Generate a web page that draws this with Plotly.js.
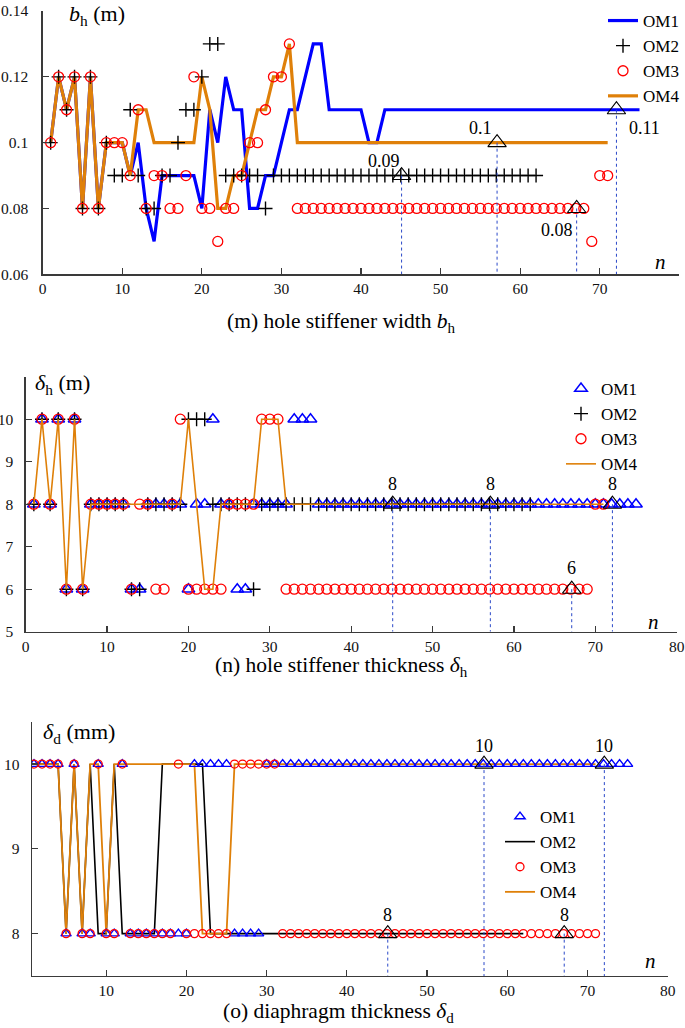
<!DOCTYPE html>
<html><head><meta charset="utf-8">
<script src="https://cdn.plot.ly/plotly-3.0.1.min.js"></script>
<style>html,body{margin:0;padding:0;background:#fff}#chart{width:685px;height:1028px}</style>
</head><body><div id="chart"></div>
<script>
// ---------- Panel (m): hole stiffener width b_h ----------
const bh_OM1 = [0.1,0.12,0.11,0.12,0.08,0.12,0.08,0.1,0.1,
  0.1,0.09,0.1,0.08,0.07,
  0.09,0.09,0.09,0.09,0.09,
  0.08,0.11,0.1,0.12,0.11,0.11,
  0.08,0.08,0.09,0.09,
  0.1,0.11,0.11,0.12,0.13,0.13,
  0.11,0.11,0.11,0.11,0.11,
  0.1,0.1,
  0.11,0.11,0.11,0.11,0.11,0.11,0.11,0.11,0.11,0.11,0.11,0.11,0.11,0.11,0.11,0.11,0.11,
  0.11,0.11,0.11,0.11,0.11,0.11,0.11,0.11,0.11,0.11,0.11,0.11,0.11,0.11,0.11,0.11];
const bh_OM2 = [0.1,0.12,0.11,0.12,0.08,0.12,0.08,0.1,
  0.09,0.09,0.11,0.09,0.08,0.08,
  0.09,0.09,0.1,0.11,0.11,0.12,0.13,0.13,
  0.09,0.09,0.09,0.09,0.09,
  0.08,
  0.09,0.09,0.09,0.09,0.09,0.09,0.09,0.09,0.09,0.09,0.09,0.09,0.09,0.09,0.09,0.09,0.09,
  0.09,0.09,0.09,0.09,0.09,0.09,0.09,0.09,0.09,0.09,0.09,0.09,0.09,0.09,0.09,0.09,0.09];
const bh_OM3 = [0.1,0.12,0.11,0.12,0.08,0.12,0.08,0.1,0.1,0.1,
  0.09,0.11,0.08,0.09,0.09,0.08,0.08,0.09,0.12,0.08,
  0.08,0.07,0.08,0.08,0.09,0.1,0.1,0.11,0.12,0.12,0.13,
  0.08,0.08,0.08,0.08,0.08,0.08,0.08,0.08,0.08,0.08,0.08,0.08,0.08,0.08,0.08,0.08,0.08,0.08,0.08,
  0.08,0.08,0.08,0.08,0.08,0.08,0.08,0.08,0.08,0.08,0.08,0.08,0.08,0.08,0.08,0.08,0.08,0.08,
  0.07,0.09,0.09];
const bh_OM4 = [0.1,0.12,0.11,0.12,0.08,0.12,0.08,0.1,0.1,0.1,
  0.09,0.11,0.11,
  0.1,0.1,0.1,0.1,0.1,0.1,
  0.12,0.11,0.08,0.08,0.09,0.09,0.1,0.11,0.11,0.12,0.12,0.13,
  0.1,0.1,0.1,0.1,0.1,0.1,0.1,0.1,0.1,0.1,0.1,0.1,0.1,0.1,0.1,0.1,0.1,0.1,0.1,0.1,
  0.1,0.1,0.1,0.1,0.1,0.1,0.1,0.1,0.1,0.1,0.1,0.1,0.1,0.1,0.1,0.1,0.1,0.1,0.1,0.1];
const bh_markN = [45.1, 57.1, 67.1, 72.1];
const bh_markV = [0.09, 0.1, 0.08, 0.11];
const bh_markLabel = ["0.09", "0.1", "0.08", "0.11"];

// ---------- Panel (n): hole stiffener thickness delta_h ----------
const dh_OM1 = [8,10,8,10,6,10,6, 8,8,8,8,8, 6,6, 8,8,8,8,8, 6, 8,8, 10, 8,8, 6,6, 8, 8,8,8,8, 10,10,10,
  8,8,8,8,8,8,8,8,8,8,8,8,8,8,8,8,8,8,8,8,8,8,8,8,8,8,8,8,8,8,8,8,8,8,8,8,8,8,8,8];
const dh_OM2 = [8,10,8,10,6,10,6, 8,8,8,8,8, 6,6, 8,8,8,8,8, 10,10,10, 8,8,8,8,8, 6,
  8,8,8,8,8,8,8,8,8,8,8,8,8,8,8,8,8,8,8,8,8,8,8,8,8,8,8,8,8,8,8,8,8,8];
const dh_OM3 = [8,10,8,10,6,10,6, 8,8,8,8,8, 6, 8,8, 6,6, 8, 10, 6,6,6,6,6, 8,8,8,8, 10,10,10,
  6,6,6,6,6,6,6,6,6,6,6,6,6,6,6,6,6,6,6,6,6,6,6,6,6,6,6,6,6,6,6,6,6,6,6,6,6,6, 8,8];
const dh_OM4 = [8,10,8,10,6,10,6, 8,8,8,8,8,8,8,8,8,8,8,8, 10, 8, 6,6, 8,8,8,8,8, 10,10,10,
  8,8,8,8,8,8,8,8,8,8,8,8,8,8,8,8,8,8,8,8,8,8,8,8,8,8,8,8,8,8,8,8,8,8,8,8,8,8,8,8];
const dh_markN = [45.1, 57.1, 67.1, 72.1];
const dh_markV = [8, 8, 6, 8];
const dh_markLabel = ["8", "8", "6", "8"];

// ---------- Panel (o): diaphragm thickness delta_d ----------
const dd_OM1 = [10,10,10,10,8,10,8,8,10,8,8,10, 8,8,8,8,8,8,8,8, 10,10,10,10,10, 8,8,8,8,
  10,10,10,10,10,10,10,10,10,10,10,10,10,10,10,10,10,10,10,10,10,10,10,
  10,10,10,10,10,10,10,10,10,10,10,10,10,10,10,10,10,10,10,10,10,10,10];
const dd_OM2 = [10,10,10,10,8,10,8,10,8,8,10, 8,8,8,8,8, 10,10,10,10,10,10,
  8,8,8,8,8,8,8,8,8,8,8,8,8,8,8,8,8,8,8,8,8,8,8,8,8,8,8,8,8,8,8,8,8,8,8,8,8,8,8,8];
const dd_OM3 = [10,10,10,10,8,10,8,8,10,8,8,10, 8,8,8,8,8,8, 10, 8,8,8,8,8,8, 10,10,10,10,10,10,
  8,8,8,8,8,8,8,8,8,8,8,8,8,8,8,8,8,8,8,8,8,8,8,8,8,8,8,8,8,8,8,8,8,8,8,8,8,8,8,8];
const dd_OM4 = [10,10,10,10,8,10,8,10,10,8, 10,10,10,10,10,10,10,10,10,10,10, 8,8,8,8,
  10,10,10,10,10,10,10,10,10,10,10,10,10,10,10,10,10,10,10,10,10,10,10,
  10,10,10,10,10,10,10,10,10,10,10,10,10,10,10,10,10,10,10,10,10,10,10];
const dd_markN = [45.1, 57.1, 67.1, 72.1];
const dd_markV = [8, 10, 8, 10];
const dd_markLabel = ["8", "10", "8", "10"];

// ---------- styling ----------
const SERIF = "'Liberation Serif', 'Times New Roman', serif";
const BLUE = "#0000FF", RED = "#FF0000", ORANGE = "#DF8009", BLACK = "#000000", DASHBLUE = "#2A48C8";
const idx = a => a.map((_, i) => i + 1);

const traces = [];
function addMarks(xa, ya, ns, vs, ymin) {
  ns.forEach((n, i) => {
    traces.push({x: [n, n], y: [vs[i], ymin], xaxis: xa, yaxis: ya, mode: 'lines',
      line: {color: DASHBLUE, width: 1, dash: 'dot'}, showlegend: false, hoverinfo: 'skip'});
  });
  traces.push({x: ns, y: vs, xaxis: xa, yaxis: ya, mode: 'markers', showlegend: false,
    marker: {symbol: 'triangle-up-open', size: 16, color: BLACK, line: {width: 1.1, color: BLACK}}});
}

// Panel 1
traces.push({x: idx(bh_OM1), y: bh_OM1, xaxis: 'x', yaxis: 'y', mode: 'lines', name: 'OM1',
  line: {color: BLUE, width: 3.2}, legend: 'legend', legendrank: 1});
traces.push({x: idx(bh_OM4), y: bh_OM4, xaxis: 'x', yaxis: 'y', mode: 'lines', name: 'OM4',
  line: {color: ORANGE, width: 3.2}, legend: 'legend', legendrank: 4});
traces.push({x: idx(bh_OM2), y: bh_OM2, xaxis: 'x', yaxis: 'y', mode: 'markers', name: 'OM2',
  marker: {symbol: 'cross-thin-open', size: 10, color: BLACK, line: {width: 1.4, color: BLACK}}, legend: 'legend', legendrank: 2});
traces.push({x: idx(bh_OM3), y: bh_OM3, xaxis: 'x', yaxis: 'y', mode: 'markers', name: 'OM3',
  marker: {symbol: 'circle-open', size: 10, color: RED, line: {width: 1.3, color: RED}}, legend: 'legend', legendrank: 3});
addMarks('x', 'y', bh_markN, bh_markV, 0.06);

// Panel 2
traces.push({x: idx(dh_OM1), y: dh_OM1, xaxis: 'x2', yaxis: 'y2', mode: 'markers', name: 'OM1',
  marker: {symbol: 'triangle-up-open', size: 11, color: BLUE, line: {width: 1.5, color: BLUE}}, legend: 'legend2', legendrank: 1});
traces.push({x: idx(dh_OM2), y: dh_OM2, xaxis: 'x2', yaxis: 'y2', mode: 'markers', name: 'OM2',
  marker: {symbol: 'cross-thin-open', size: 10, color: BLACK, line: {width: 1.4, color: BLACK}}, legend: 'legend2', legendrank: 2});
traces.push({x: idx(dh_OM3), y: dh_OM3, xaxis: 'x2', yaxis: 'y2', mode: 'markers', name: 'OM3',
  marker: {symbol: 'circle-open', size: 10, color: RED, line: {width: 1.3, color: RED}}, legend: 'legend2', legendrank: 3});
traces.push({x: idx(dh_OM4), y: dh_OM4, xaxis: 'x2', yaxis: 'y2', mode: 'lines', name: 'OM4',
  line: {color: ORANGE, width: 1.6}, legend: 'legend2', legendrank: 4});
addMarks('x2', 'y2', dh_markN, dh_markV, 5);

// Panel 3
traces.push({x: idx(dd_OM2), y: dd_OM2, xaxis: 'x3', yaxis: 'y3', mode: 'lines', name: 'OM2',
  line: {color: BLACK, width: 1.6}, legend: 'legend3', legendrank: 2});
traces.push({x: idx(dd_OM4), y: dd_OM4, xaxis: 'x3', yaxis: 'y3', mode: 'lines', name: 'OM4',
  line: {color: ORANGE, width: 1.8}, legend: 'legend3', legendrank: 4});
traces.push({x: idx(dd_OM1), y: dd_OM1, xaxis: 'x3', yaxis: 'y3', mode: 'markers', name: 'OM1',
  marker: {symbol: 'triangle-up-open', size: 9, color: BLUE, line: {width: 1.4, color: BLUE}}, legend: 'legend3', legendrank: 1});
traces.push({x: idx(dd_OM3), y: dd_OM3, xaxis: 'x3', yaxis: 'y3', mode: 'markers', name: 'OM3',
  marker: {symbol: 'circle-open', size: 8, color: RED, line: {width: 1.3, color: RED}}, legend: 'legend3', legendrank: 3});
addMarks('x3', 'y3', dd_markN, dd_markV, 7.5);

const W = 685, H = 1028;
const xd = (l, r) => [l / W, r / W];
const yd = (t, b) => [1 - b / H, 1 - t / H];
const axBase = {showline: true, linecolor: '#3a3a3a', linewidth: 1.4, ticks: 'inside', ticklen: 6,
  tickwidth: 1.2, tickcolor: '#3a3a3a', showgrid: false, zeroline: false,
  tickfont: {family: SERIF, size: 15.5, color: '#111'}, fixedrange: true};

const legBase = {yanchor: 'top', xanchor: 'right', bgcolor: 'rgba(0,0,0,0)', borderwidth: 0,
  font: {family: SERIF, size: 17, color: BLACK}, tracegroupgap: 0, traceorder: 'normal'};

const annotations = [];
function txt(x, y, text, size, extra) {
  annotations.push(Object.assign({xref: 'paper', yref: 'paper', x: x / W, y: 1 - y / H, text: text,
    showarrow: false, font: {family: SERIF, size: size, color: BLACK}, xanchor: 'center', yanchor: 'middle'}, extra || {}));
}
txt(341, 322, "(m) hole stiffener width <i>b</i><sub>h</sub>", 21.5);
txt(341, 666, "(n) hole stiffener thickness <i>δ</i><sub>h</sub>", 21.5);
txt(338, 1012, "(o) diaphragm thickness <i>δ</i><sub>d</sub>", 21.5);
txt(97, 15, "<i>b</i><sub>h</sub> (m)", 22);
txt(63, 384, "<i>δ</i><sub>h</sub> (m)", 22);
txt(79, 733, "<i>δ</i><sub>d</sub> (mm)", 22);
txt(660, 262, "<i>n</i>", 21);
txt(653, 622, "<i>n</i>", 21);
txt(650, 961, "<i>n</i>", 21);

function markLabels(xa, ya, ns, vs, labels, shifts) {
  ns.forEach((n, i) => {
    annotations.push({xref: xa, yref: ya, x: n, y: vs[i], text: labels[i], showarrow: false,
      font: {family: SERIF, size: 18, color: BLACK}, xshift: shifts[i][0], yshift: shifts[i][1]});
  });
}
markLabels('x', 'y', bh_markN, bh_markV, bh_markLabel, [[-18, 15], [-17, 15], [-20, -22], [28, -18]]);
markLabels('x2', 'y2', dh_markN, dh_markV, dh_markLabel, [[0, 20], [0, 20], [0, 21], [0, 20]]);
markLabels('x3', 'y3', dd_markN, dd_markV, dd_markLabel, [[0, 19], [0, 18], [0, 19], [0, 18]]);

const layout = {
  width: W, height: H, margin: {l: 0, r: 0, t: 0, b: 0}, paper_bgcolor: '#fff', plot_bgcolor: 'rgba(0,0,0,0)',
  font: {family: SERIF},
  xaxis: Object.assign({}, axBase, {domain: xd(42.7, 679.3), range: [0, 80], tickvals: [0,10,20,30,40,50,60,70,80], anchor: 'y'}),
  yaxis: Object.assign({}, axBase, {domain: yd(11, 274.3), range: [0.06, 0.14], tickvals: [0.06,0.08,0.1,0.12,0.14], anchor: 'x', ticklabelstandoff: 10}),
  xaxis2: Object.assign({}, axBase, {domain: xd(25.7, 676.7), range: [0, 80], tickvals: [0,10,20,30,40,50,60,70,80], anchor: 'y2'}),
  yaxis2: Object.assign({}, axBase, {domain: yd(376.7, 631.7), range: [5, 11], tickvals: [5,6,7,8,9,10], anchor: 'x2', ticklabelstandoff: 8}),
  xaxis3: Object.assign({}, axBase, {domain: xd(32, 667.7), range: [0.75, 80], tickvals: [10,20,30,40,50,60,70,80], anchor: 'y3'}),
  yaxis3: Object.assign({}, axBase, {domain: yd(721.7, 976), range: [7.5, 10.5], tickvals: [8,9,10], anchor: 'x3', ticklabelstandoff: 8}),
  legend: Object.assign({}, legBase, {x: 1, y: 1 - 3 / H}),
  legend2: Object.assign({}, legBase, {x: 643 / W, y: 1 - 371 / H}),
  legend3: Object.assign({}, legBase, {x: 582 / W, y: 1 - 799 / H}),
  annotations: annotations,
  showlegend: true
};

Plotly.newPlot('chart', traces, layout, {displayModeBar: false, staticPlot: true});
</script></body></html>
